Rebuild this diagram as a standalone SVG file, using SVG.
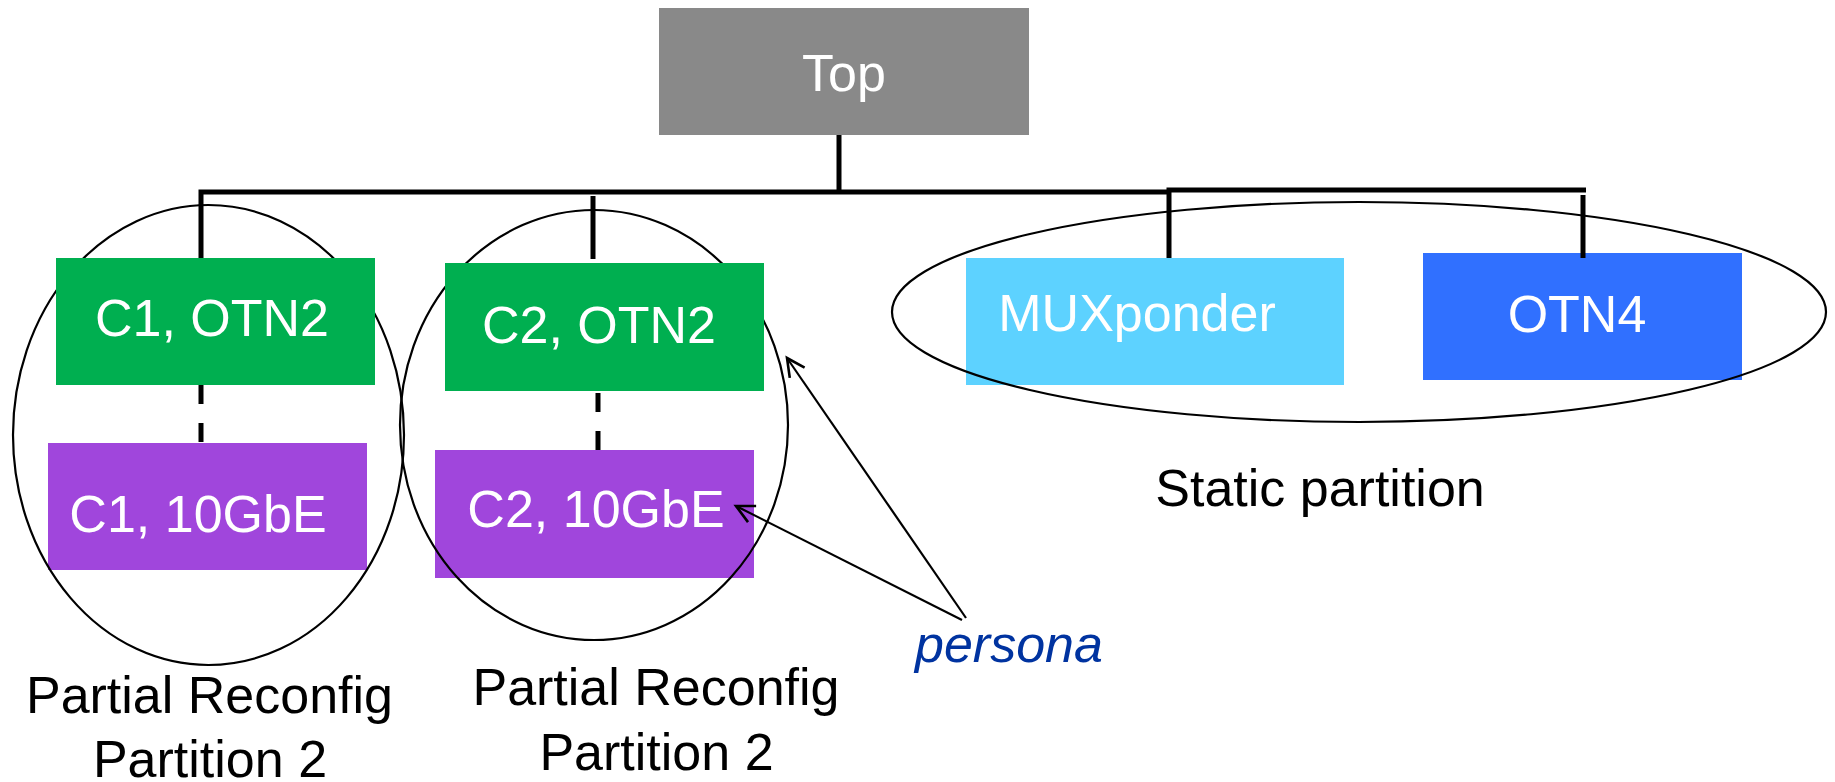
<svg xmlns="http://www.w3.org/2000/svg" width="1835" height="782" viewBox="0 0 1835 782">
<style>
.lbl{font-family:"Liberation Sans",Arial,sans-serif;font-size:52px;text-anchor:middle}
.w{fill:#ffffff}
.k{fill:#000000}
.ell{fill:none;stroke:#000;stroke-width:2.2}
.tree{fill:none;stroke:#000;stroke-width:5}
.dash{fill:none;stroke:#000;stroke-width:5;stroke-dasharray:19 19}
.arr{fill:none;stroke:#000;stroke-width:2.2}
</style>
<defs>
<marker id="open" markerUnits="userSpaceOnUse" markerWidth="24" markerHeight="24" refX="20" refY="10" orient="auto" viewBox="0 0 24 20">
<path d="M2,1 L20,10 L2,19" fill="none" stroke="#000" stroke-width="2.6"/>
</marker>
</defs>
<rect width="1835" height="782" fill="#ffffff"/>
<g id="node-c1-10gbe"><rect x="48" y="443" width="319" height="127" fill="#A046DC"/><text class="lbl w" x="198" y="532">C1, 10GbE</text></g>
<g id="node-c2-10gbe"><rect x="435" y="450" width="319" height="128" fill="#A046DC"/><text class="lbl w" x="596" y="527">C2, 10GbE</text></g>
<g id="node-muxponder"><rect x="966" y="258" width="378" height="127" fill="#5DD2FF"/><text class="lbl w" x="1137" y="331">MUXponder</text></g>
<g id="node-otn4"><rect x="1423" y="253" width="319" height="127" fill="#3070FF"/><text class="lbl w" x="1577" y="332">OTN4</text></g>
<g id="partitions">
<ellipse class="ell" cx="208.5" cy="435" rx="195.5" ry="230"/>
<ellipse class="ell" cx="594" cy="425" rx="194" ry="215"/>
<ellipse class="ell" cx="1359" cy="312" rx="467" ry="110"/>
</g>
<g id="node-top"><rect x="659" y="8" width="370" height="127" fill="#898989"/><text class="lbl w" x="844" y="91">Top</text></g>
<g id="node-c1-otn2"><rect x="56" y="258" width="319" height="127" fill="#00AF50"/><text class="lbl w" x="212" y="336">C1, OTN2</text></g>
<g id="node-c2-otn2"><rect x="445" y="263" width="319" height="128" fill="#00AF50"/><text class="lbl w" x="599" y="343">C2, OTN2</text></g>
<g id="connectors">
<path class="tree" d="M839,135 V194"/>
<path class="tree" d="M201,258 V192 H1169"/>
<path class="tree" d="M1169,258 V190 H1586"/>
<path class="tree" d="M593,196 V259"/>
<path class="tree" d="M1583,195 V258"/>
<path class="dash" d="M201,385 V443"/>
<path class="dash" d="M598,393 V455"/>
<path class="arr" d="M966,618 L787,358" marker-end="url(#open)"/>
<path class="arr" d="M962,620 L736,506" marker-end="url(#open)"/>
</g>
<g id="labels">
<text class="lbl k" x="209.5" y="713">Partial Reconfig</text>
<text class="lbl k" x="210" y="777">Partition 2</text>
<text class="lbl k" x="656" y="705">Partial Reconfig</text>
<text class="lbl k" x="656.5" y="770">Partition 2</text>
<text class="lbl k" x="1320" y="506">Static partition</text>
<text class="lbl" x="915" y="662" style="text-anchor:start;font-style:italic;fill:#0033A0">persona</text>
</g>
</svg>
